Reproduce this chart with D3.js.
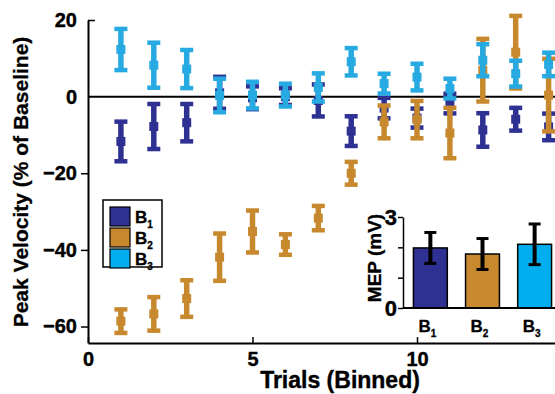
<!DOCTYPE html>
<html>
<head>
<meta charset="utf-8">
<script src="https://cdn.jsdelivr.net/npm/d3@7"></script>
<style>
  body { margin: 0; background: #fff; }
  svg { display: block; font-family: "Liberation Sans", Arial, sans-serif; font-weight: bold; }
</style>
</head>
<body>
<div id="chart"></div>
<script>
// binned trials
const trials = [1, 2, 3, 4, 5, 6, 7, 8, 9, 10, 11, 12, 13, 14];
const seriesNames = ['1', '2', '3'];
const seriesColors = ['#2e3192', '#c8892e', '#27aae1'];
const swatchColors = ['#2e3192', '#c8892e', '#00aeef'];

// peak velocity (% of baseline), mean and error
const b1Mean = [-11.7, -7.8, -6.8, 1, -0.3, 0, -1, -9, -3, -5.6, -1.8, -8.7, -5.9, -7.9];
const b1Err = [5.5, 6.2, 5.2, 4.5, 3.3, 2.5, 4.5, 4.2, 3, 2.8, 2.9, 4.7, 3.3, 3.8];
const b2Mean = [-58.6, -56.7, -52.7, -41.9, -35.2, -38.6, -31.7, -20, -6.6, -6, -9.5, 6.9, 11.6, 0.4];
const b2Err = [3.4, 4.7, 5.1, 6.5, 5.8, 3, 3.5, 3.3, 4.6, 5.2, 6.9, 8.5, 9.8, 9.8];
const b3Mean = [12.3, 8.2, 7.2, 0.3, 0.4, 0.4, 2.4, 9.1, 3.4, 5.1, 2.1, 9.5, 6, 8.4];
const b3Err = [5.7, 6.2, 5.3, 4.7, 3.8, 3.3, 4, 3.9, 2.9, 3.8, 2.9, 4.5, 3.7, 3.4];

const yTicks = [20, 0, -20, -40, -60];
const xTicks = [0, 5, 10];

// inset: MEP (mV)
const mepMean = [1.98, 1.78, 2.1];
const mepErr = [0.51, 0.51, 0.67];
const mepTicks = [0, 1, 2, 3];

const width = 555, height = 394;

const svg = d3.select('#chart')
    .append('svg')
    .attr('width', width)
    .attr('height', height);

const x = d3.scaleLinear()
    .domain([0, 15])
    .range([88, 581.5]);

const y = d3.scaleLinear()
    .domain([-64.3, 20])
    .range([343, 20]);

const series = [
    { name: '1', mean: b1Mean, err: b1Err, color: seriesColors[0] },
    { name: '2', mean: b2Mean, err: b2Err, color: seriesColors[1] },
    { name: '3', mean: b3Mean, err: b3Err, color: seriesColors[2] },
];

// zero line
svg.append('line')
    .attr('x1', x(0)).attr('x2', width)
    .attr('y1', y(0)).attr('y2', y(0))
    .attr('stroke', '#000')
    .attr('stroke-width', 2);

// error bar markers
series.forEach(s => {
    const g = svg.append('g').attr('fill', s.color);
    const pts = trials.map((t, i) => ({ t, m: s.mean[i], e: s.err[i] }));
    g.selectAll('.stem').data(pts).join('rect')
        .attr('x', d => x(d.t) - 2.75)
        .attr('width', 5.5)
        .attr('y', d => y(d.m + d.e))
        .attr('height', d => y(d.m - d.e) - y(d.m + d.e));
    g.selectAll('.capt').data(pts).join('rect')
        .attr('x', d => x(d.t) - 6.5)
        .attr('width', 13)
        .attr('y', d => y(d.m + d.e) - 1)
        .attr('height', 4.5);
    g.selectAll('.capb').data(pts).join('rect')
        .attr('x', d => x(d.t) - 6.5)
        .attr('width', 13)
        .attr('y', d => y(d.m - d.e) - 3.5)
        .attr('height', 4.5);
    g.selectAll('.mean').data(pts).join('rect')
        .attr('x', d => x(d.t) - 4.5)
        .attr('width', 9)
        .attr('y', d => y(d.m) - 4.5)
        .attr('height', 9);
});

// axes
const yAxis = svg.append('g')
    .attr('transform', `translate(${x(0)},0)`)
    .call(d3.axisLeft(y).tickValues(yTicks).tickSize(7).tickSizeOuter(0).tickFormat(d3.format('d')));
yAxis.selectAll('.tick').filter(d => d === 20).select('line').attr('x2', 7);
yAxis.selectAll('.tick').filter(d => d === 0).select('line').remove();

const xAxis = svg.append('g')
    .attr('transform', `translate(0,${y.range()[0]})`)
    .call(d3.axisBottom(x).tickValues(xTicks).tickSize(-6).tickSizeOuter(0));

[yAxis, xAxis].forEach(a => {
    a.select('.domain').attr('stroke-width', 2);
    a.selectAll('.tick line').attr('stroke-width', 1.5);
    a.selectAll('text')
        .attr('font-size', 20)
        .attr('font-weight', 'bold')
        .attr('font-family', '"Liberation Sans", Arial, sans-serif')
        .attr('fill', '#000')
        .attr('stroke', '#000')
        .attr('stroke-width', 0.4);
});
yAxis.selectAll('text').attr('x', -11);
xAxis.selectAll('text').attr('y', 9);

svg.append('text')
    .attr('transform', 'translate(28,182) rotate(-90)')
    .attr('text-anchor', 'middle')
    .attr('font-size', 21)
    .attr('stroke', '#000').attr('stroke-width', 0.3)
    .text('Peak Velocity (% of Baseline)');

svg.append('text')
    .attr('x', 340)
    .attr('y', 388)
    .attr('text-anchor', 'middle')
    .attr('font-size', 23)
    .attr('stroke', '#000').attr('stroke-width', 0.4)
    .text('Trials (Binned)');

// legend
const legend = svg.append('g').attr('transform', 'translate(103,200)');
legend.append('rect')
    .attr('width', 59).attr('height', 67)
    .attr('fill', '#fff').attr('stroke', '#000').attr('stroke-width', 1.5);
seriesNames.forEach((n, i) => {
    const row = legend.append('g').attr('transform', `translate(7,${7 + i * 21})`);
    row.append('rect')
        .attr('width', 20).attr('height', 19)
        .attr('fill', swatchColors[i]).attr('stroke', '#000').attr('stroke-width', 1.2);
    const t = row.append('text').attr('x', 25).attr('y', 16).attr('font-size', 17)
        .attr('stroke', '#000').attr('stroke-width', 0.3);
    t.append('tspan').text('B');
    t.append('tspan').attr('font-size', 10).attr('dy', 5).text(n);
});

// inset bar chart
const bx = d3.scaleBand()
    .domain(seriesNames)
    .range([403, 562])
    .paddingInner(0.35)
    .paddingOuter(0.2);

const by = d3.scaleLinear()
    .domain([0, 3])
    .range([308, 217]);

svg.append('g').selectAll('rect').data(seriesNames).join('rect')
    .attr('x', d => bx(d))
    .attr('width', bx.bandwidth())
    .attr('y', (d, i) => by(mepMean[i]))
    .attr('height', (d, i) => by(0) - by(mepMean[i]))
    .attr('fill', (d, i) => swatchColors[i])
    .attr('stroke', '#000')
    .attr('stroke-width', 1.5);

const eb = svg.append('g').attr('stroke', '#000').attr('stroke-width', 4);
seriesNames.forEach((d, i) => {
    const cx = bx(d) + bx.bandwidth() / 2;
    eb.append('line')
        .attr('x1', cx).attr('x2', cx)
        .attr('y1', by(mepMean[i] + mepErr[i])).attr('y2', by(mepMean[i] - mepErr[i]));
    [mepMean[i] + mepErr[i], mepMean[i] - mepErr[i]].forEach(v => {
        eb.append('line')
            .attr('x1', cx - 6).attr('x2', cx + 6)
            .attr('y1', by(v)).attr('y2', by(v))
            .attr('stroke-width', 3);
    });
});

const iy = svg.append('g')
    .attr('transform', 'translate(403,0)')
    .call(d3.axisLeft(by).tickValues(mepTicks).tickSize(5).tickSizeOuter(0)
        .tickFormat(d => (d === 0 || d === 3) ? d : ''));
iy.select('.domain').attr('stroke-width', 1.5);
iy.selectAll('.tick line').attr('stroke-width', 1.5);
iy.selectAll('text')
    .attr('font-size', 22)
    .attr('font-weight', 'bold')
    .attr('font-family', '"Liberation Sans", Arial, sans-serif')
    .attr('fill', '#000')
    .attr('stroke', '#000').attr('stroke-width', 0.4)
    .attr('x', -6);

svg.append('line')
    .attr('x1', 403).attr('x2', width)
    .attr('y1', by(0)).attr('y2', by(0))
    .attr('stroke', '#000').attr('stroke-width', 2);

const bl = svg.append('g');
seriesNames.forEach(n => {
    const t = bl.append('text')
        .attr('x', bx(n) + bx.bandwidth() / 2 - 3)
        .attr('y', 332)
        .attr('text-anchor', 'middle')
        .attr('font-size', 17)
        .attr('stroke', '#000').attr('stroke-width', 0.3);
    t.append('tspan').text('B');
    t.append('tspan').attr('font-size', 10).attr('dy', 5).text(n);
});

svg.append('text')
    .attr('transform', 'translate(381,258) rotate(-90)')
    .attr('text-anchor', 'middle')
    .attr('font-size', 19)
    .attr('stroke', '#000').attr('stroke-width', 0.3)
    .text('MEP (mV)');
</script>
</body>
</html>
